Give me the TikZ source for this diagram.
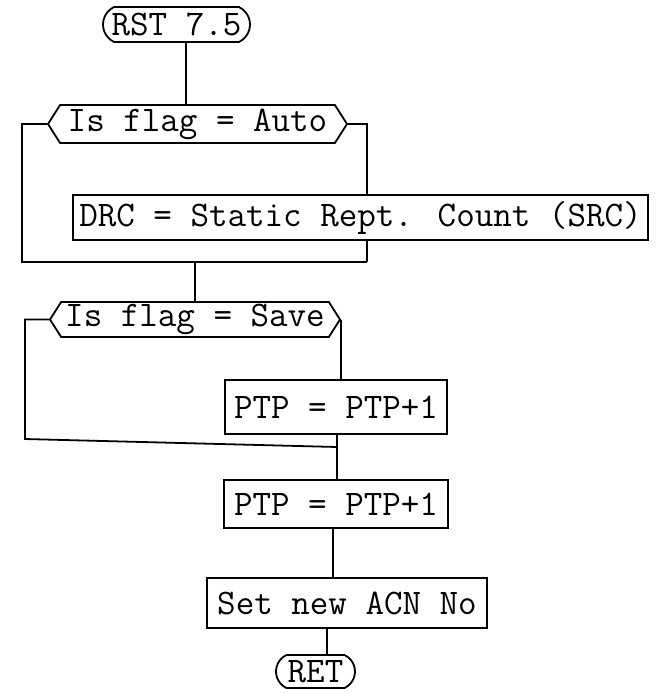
\documentclass[tikz,border=0pt]{standalone}
\usepackage{fontspec}
\usetikzlibrary{shapes.symbols,shapes.misc}
\begin{document}
\begin{tikzpicture}[x=0.5pt,y=-0.5pt,line width=0.9pt,
  every node/.style={font=\fontsize{18}{20}\selectfont\ttfamily, inner sep=0pt},
  box/.style={draw, rectangle, line width=0.9pt},
  term/.style={draw, rounded rectangle, rounded rectangle arc length=130, line width=0.9pt},
  test/.style={draw, signal, signal to=east and west, signal pointer angle=115, line width=0.9pt}]
\useasboundingbox (0,0) rectangle (659,693);

% terminals, tests and process boxes
\node[term, minimum width=73.5pt, minimum height=17.5pt] (rst) at (176.5,24.5) {RST 7.5};
\node[test, minimum width=149.5pt, minimum height=19pt] (auto) at (197.5,124) {Is flag = Auto};
\node[box, minimum width=287.5pt, minimum height=22.5pt] (drc) at (360.5,217.5) {DRC = Static Rept. Count (SRC)};
\node[test, minimum width=145pt, minimum height=17.5pt] (save) at (195,319.5) {Is flag = Save};
\node[box, minimum width=111pt, minimum height=27pt] (ptpa) at (336,407) {PTP = PTP+1};
\node[box, minimum width=112pt, minimum height=24pt] (ptpb) at (336,504) {PTP = PTP+1};
\node[box, minimum width=140pt, minimum height=25pt] (setn) at (347,603) {Set new ACN No};
\node[term, minimum width=39.5pt, minimum height=16.5pt] (ret) at (315.5,671.5) {RET};

% junction points of the two branches
\coordinate (m1) at (367,262);
\coordinate (m1l) at (22,262);
\coordinate (m2) at (337,447);
\coordinate (m2l) at (25,439);

% entry
\draw ([xshift=4.75pt]rst.south) coordinate (a0) -- (a0 |- auto.north);

% first test: bypass on the left, DRC on the right
\draw (auto.west) -| (m1l) -- (m1);
\draw (auto.east) -| (drc.north -| m1);
\draw (drc.south -| m1) -- (m1);
\draw (save.north |- m1) -- (save.north);

% second test: bypass on the left, increment on the right
\draw (save.west) -| (m2l) -- (m2);
\draw (save.east) -- (save.east |- ptpa.north);
\draw (ptpa.south -| m2) -- (m2) -- (m2 |- ptpb.north);

% tail of the routine
\draw ([xshift=-1.5pt]ptpb.south) coordinate (b1) -- (b1 |- setn.north);
\draw ([xshift=-10pt]setn.south) coordinate (c1) -- (c1 |- ret.north);
\end{tikzpicture}
\end{document}
